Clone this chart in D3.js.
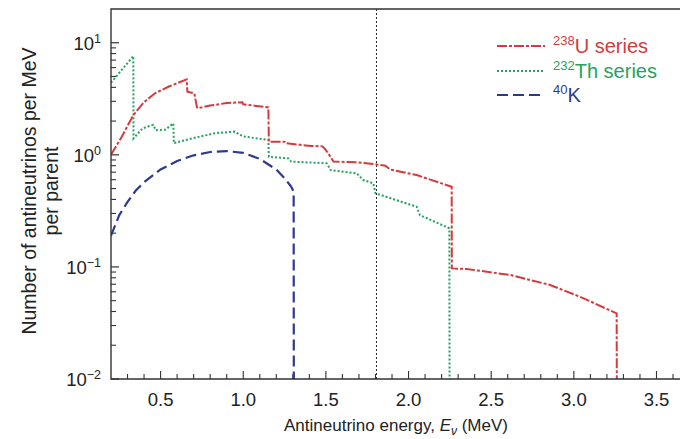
<!DOCTYPE html>
<html>
<head>
<meta charset="utf-8">
<script src="https://cdn.jsdelivr.net/npm/d3@7"></script>
<style>
  html, body { margin: 0; padding: 0; background: #fff; }
  svg { display: block; font-family: "Liberation Sans", Arial, Helvetica, sans-serif; }
</style>
</head>
<body>
<svg id="chart" width="680" height="439"></svg>
<script>
// Antineutrino spectra per parent nucleus (per MeV), log scale.
// Spectra end at their endpoints; the last point sits on the axis floor.

const uEnergy = [0.2, 0.265, 0.335, 0.4, 0.466, 0.55, 0.658, 0.662, 0.704, 0.72, 0.724, 0.80, 0.90, 0.995, 1.0, 1.152, 1.155, 1.25, 1.255, 1.41, 1.48, 1.50, 1.53, 1.545, 1.686, 1.787, 1.86, 1.888, 2.049, 2.261, 2.262, 2.352, 2.614, 2.856, 3.037, 3.259, 3.26];
const uValue  = [1.0, 1.45, 2.26, 2.95, 3.54, 4.07, 4.71, 3.66, 3.54, 2.65, 2.60, 2.75, 2.90, 2.95, 2.82, 2.65, 1.31, 1.31, 1.27, 1.20, 1.19, 1.10, 0.95, 0.87, 0.857, 0.828, 0.80, 0.74, 0.66, 0.519, 0.097, 0.0958, 0.0848, 0.069, 0.0542, 0.0385, 0.01];

const thEnergy = [0.2, 0.335, 0.336, 0.39, 0.44, 0.456, 0.47, 0.53, 0.577, 0.58, 0.688, 0.829, 0.95, 0.975, 1.01, 1.09, 1.152, 1.155, 1.273, 1.29, 1.505, 1.53, 1.686, 1.726, 1.787, 1.80, 2.049, 2.069, 2.247, 2.248];
const thValue  = [4.4, 7.6, 1.40, 1.72, 1.82, 1.85, 1.66, 1.68, 1.91, 1.27, 1.40, 1.56, 1.61, 1.52, 1.45, 1.40, 1.36, 0.96, 0.93, 0.87, 0.84, 0.73, 0.684, 0.596, 0.557, 0.454, 0.344, 0.29, 0.221, 0.01];

const kEnergy = [0.2, 0.25, 0.3, 0.35, 0.4, 0.5, 0.6, 0.7, 0.8, 0.9, 1.0, 1.1, 1.2, 1.25, 1.29, 1.305, 1.306];
const kValue  = [0.19, 0.29, 0.38, 0.48, 0.57, 0.74, 0.88, 0.99, 1.06, 1.08, 1.04, 0.92, 0.74, 0.62, 0.52, 0.47, 0.01];

const seriesNames = ["238U series", "232Th series", "40K"];
const xTickLabels = ["0.5", "1.0", "1.5", "2.0", "2.5", "3.0", "3.5"];
const yDecades = [-2, -1, 0, 1];
const thresholdEnergy = 1.806;

const colors = { u: "#d63a3c", th: "#25a25e", k: "#2e3a8e" };

const svg = d3.select("#chart");
const mLeft = 111, mTop = 9, mBottom = 379, mRight = 682;

const x = d3.scaleLinear().domain([0.2, 0.2 + (mRight - mLeft) / 165.3]).range([mLeft, mRight]);
const y = d3.scaleLog().domain([0.01, 20]).range([mBottom, mTop]);

const plot = svg.append("g");
plot.append("defs").append("clipPath").attr("id", "clip")
  .append("rect").attr("x", mLeft).attr("y", mTop).attr("width", mRight - mLeft).attr("height", mBottom - mTop);

// Axis ticks (inward)
const xMinor = d3.range(3, 37).map(i => i / 10);
plot.selectAll(".xt").data(xMinor).join("line")
  .attr("x1", d => x(d)).attr("x2", d => x(d))
  .attr("y1", mBottom)
  .attr("y2", d => mBottom - (Math.abs(d * 2 - Math.round(d * 2)) < 1e-6 ? 8 : 5))
  .attr("stroke", "#333").attr("stroke-width", 1.1);

const yMinor = [];
[-2, -1, 0, 1].forEach(e => { for (let m = 2; m <= 9; m++) { const v = m * Math.pow(10, e); if (v < 20) yMinor.push(v); } });
plot.selectAll(".ytm").data(yMinor).join("line")
  .attr("x1", mLeft).attr("x2", mLeft + 5)
  .attr("y1", d => y(d)).attr("y2", d => y(d))
  .attr("stroke", "#333").attr("stroke-width", 1.1);
plot.selectAll(".ytM").data(yDecades).join("line")
  .attr("x1", mLeft).attr("x2", mLeft + 8)
  .attr("y1", d => y(Math.pow(10, d))).attr("y2", d => y(Math.pow(10, d)))
  .attr("stroke", "#333").attr("stroke-width", 1.2);

// Threshold marker
plot.append("line")
  .attr("x1", x(thresholdEnergy)).attr("x2", x(thresholdEnergy))
  .attr("y1", mTop).attr("y2", mBottom)
  .attr("stroke", "#222").attr("stroke-width", 1).attr("stroke-dasharray", "2,2");

// Spectra
const line = d3.line().x(d => x(d[0])).y(d => y(d[1]));
const zip = (a, b) => a.map((v, i) => [v, b[i]]);
const curves = [
  { data: zip(kEnergy, kValue), color: colors.k, dash: "11,5", w: 2.2 },
  { data: zip(thEnergy, thValue), color: colors.th, dash: "2,2", w: 2 },
  { data: zip(uEnergy, uValue), color: colors.u, dash: "10,2,3,2", w: 2 }
];
plot.append("g").attr("clip-path", "url(#clip)").selectAll("path").data(curves).join("path")
  .attr("d", d => line(d.data))
  .attr("fill", "none").attr("stroke", d => d.color)
  .attr("stroke-width", d => d.w).attr("stroke-dasharray", d => d.dash);

// Frame
plot.append("path")
  .attr("d", `M${mRight},${mTop}H${mLeft}V${mBottom}H${mRight}`)
  .attr("fill", "none").attr("stroke", "#333").attr("stroke-width", 1.4);

// X tick labels
plot.selectAll(".xl").data(xTickLabels).join("text")
  .attr("x", d => x(+d)).attr("y", 406)
  .attr("text-anchor", "middle").attr("font-size", 18.5).attr("fill", "#222")
  .text(d => d);

// Y tick labels 10^n
const yl = plot.selectAll(".yl").data(yDecades).join("text")
  .attr("x", 101).attr("y", d => y(Math.pow(10, d)) + 7)
  .attr("text-anchor", "end").attr("font-size", 18.5).attr("fill", "#222");
yl.append("tspan").text("10");
yl.append("tspan").attr("dy", -7).attr("font-size", 12.5).text(d => d < 0 ? "\u2212" + (-d) : d);

// Axis titles
svg.append("text")
  .attr("x", 396).attr("y", 431).attr("text-anchor", "middle")
  .attr("font-size", 17).attr("fill", "#222")
  .call(t => {
    t.append("tspan").text("Antineutrino energy, ");
    t.append("tspan").attr("font-style", "italic").text("E");
    t.append("tspan").attr("font-style", "italic").attr("font-size", 12).attr("dy", 4).text("\u03bd");
    t.append("tspan").attr("dy", -4).text(" (MeV)");
  });

const yt = svg.append("text")
  .attr("transform", "translate(0,191) rotate(-90)")
  .attr("text-anchor", "middle").attr("font-size", 19.5).attr("fill", "#222");
yt.append("tspan").attr("x", 0).attr("y", 36).text("Number of antineutrinos per MeV");
yt.append("tspan").attr("x", 0).attr("y", 58).text("per parent");

// Legend
const legend = svg.append("g");
const legendRows = [
  { name: seriesNames[0], color: colors.u, dash: "10,2,3,2", w: 2, yy: 46 },
  { name: seriesNames[1], color: colors.th, dash: "2,2", w: 2, yy: 71 },
  { name: seriesNames[2], color: colors.k, dash: "11,5", w: 2.2, yy: 95 }
];
legendRows.forEach(r => {
  legend.append("line").attr("x1", 497).attr("x2", 545).attr("y1", r.yy).attr("y2", r.yy)
    .attr("stroke", r.color).attr("stroke-width", r.w).attr("stroke-dasharray", r.dash);
  const m = r.name.match(/^(\d+)(.*)$/);
  const t = legend.append("text").attr("x", 553).attr("y", r.yy + 7)
    .attr("font-size", 20).attr("fill", r.color);
  t.append("tspan").attr("font-size", 13).attr("dy", -8).text(m[1]);
  t.append("tspan").attr("dy", 8).text(m[2]);
});
</script>
</body>
</html>
